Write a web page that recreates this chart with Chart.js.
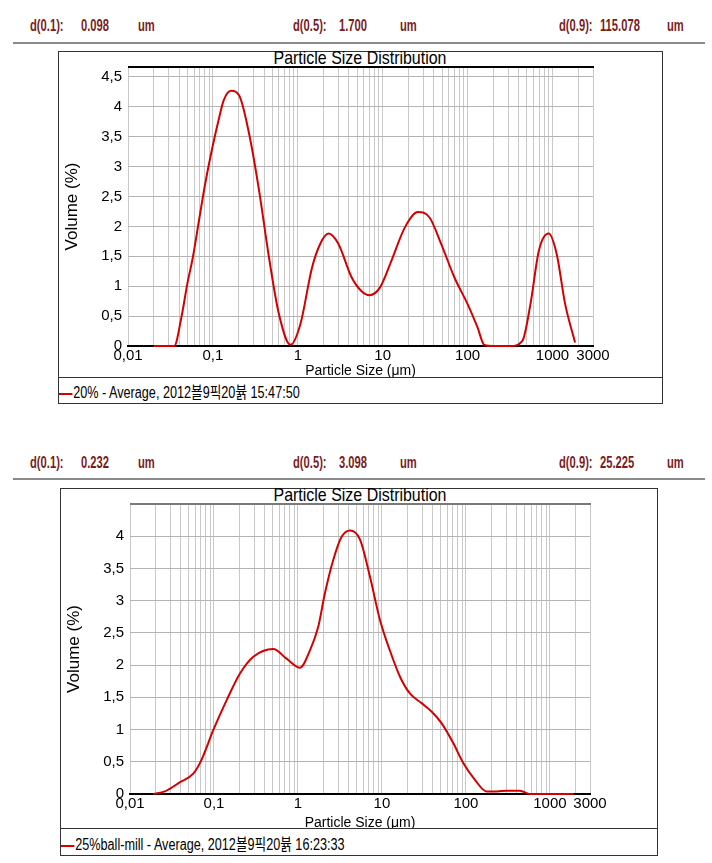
<!DOCTYPE html>
<html>
<head>
<meta charset="utf-8">
<script src="https://cdn.jsdelivr.net/npm/chart.js@4.4.1/dist/chart.umd.min.js"></script>
<style>
  html, body { margin: 0; padding: 0; background: #fff; }
  body { width: 712px; height: 863px; position: relative; overflow: hidden;
         font-family: "Liberation Sans", Arial, "Noto Sans CJK KR", sans-serif; }
  .hd { position: absolute; font-size: 16px; font-weight: bold; color: #7a1c1c; line-height: 16px;
        white-space: nowrap; transform: scaleX(0.7); transform-origin: 0 50%; }
  .rule { position: absolute; height: 0; border-top: 2px solid #8a8a8a; }
  .box { position: absolute; border: 1px solid #333; box-sizing: border-box; }
  .sep { position: absolute; left: 0; right: 0; border-top: 1px solid #333; }
  .ttl { position: absolute; font-size: 19px; line-height: 18px; color: #000; white-space: nowrap;
         transform: translateX(-50%) scaleX(0.84); }
  .leg { position: absolute; font-size: 16px; line-height: 16px; color: #000; white-space: nowrap;
         transform: scaleX(0.79); transform-origin: 0 50%; }
  .leg i { display: inline-block; width: 17px; border-top: 2px solid #d40000; vertical-align: middle; margin-right: 1px; }
  canvas { position: absolute; }
</style>
</head>
<body>
<div id="page"></div>
<canvas id="c1" width="604" height="326" style="left:58px;top:51px"></canvas>
<canvas id="c2" width="597" height="340" style="left:60px;top:488px"></canvas>
<script>
// header values
const dLabels = ["d(0.1):", "d(0.5):", "d(0.9):"];
const dValues1 = ["0.098", "1.700", "115.078"];
const dValues2 = ["0.232", "3.098", "25.225"];
const unit = "um";

// x axis (particle size, log)
const xTickValues = [0.01, 0.1, 1, 10, 100, 1000, 3000];
const xTickLabels = ["0,01", "0,1", "1", "10", "100", "1000", "3000"];

// y axis
const yTicks1 = [0, 0.5, 1, 1.5, 2, 2.5, 3, 3.5, 4, 4.5];
const yTicks2 = [0, 0.5, 1, 1.5, 2, 2.5, 3, 3.5, 4];

// sample 1: 20%
const legend1 = "20% - Average, 2012뵬9픽20뷹 15:47:50";
const sizes1 = [0.02, 0.035, 0.0425, 0.0499, 0.058, 0.0695, 0.081, 0.0969, 0.119, 0.134, 0.163, 0.204, 0.267, 0.35, 0.458, 0.6, 0.82,
  1.07, 1.47, 1.84, 2.3, 3.0, 4.3, 5.6, 7.0, 9.3, 12.7, 18.2, 26, 35.6, 48.8, 69.8, 100, 131, 157,
  200, 320, 440, 550, 690, 900, 1120, 1410, 1845];
const volume1 = [0, 0, 0.475, 1.035, 1.48, 2.15, 2.71, 3.27, 3.83, 4.11, 4.27, 4.19, 3.55, 2.6, 1.48, 0.53, 0.02,
  0.36, 1.31, 1.71, 1.88, 1.71, 1.15, 0.92, 0.85, 0.98, 1.43, 1.98, 2.24, 2.15, 1.71, 1.15, 0.7, 0.31, 0.02,
  0, 0, 0.08, 0.7, 1.59, 1.88, 1.54, 0.7, 0.06];

// sample 2: 25% ball-mill
const legend2 = "25%ball-mill - Average, 2012뵬9픽20뷹 16:23:33";
const sizes2 = [0.019, 0.026, 0.039, 0.057, 0.071, 0.098, 0.142, 0.204, 0.294, 0.508, 0.73, 1.06,
  1.39, 1.74, 2.09, 2.63, 3.31, 4.16, 5.47, 7.2, 9.47, 12.4, 16.4, 21.5, 29.6, 38.9, 51.2, 70.6, 92.9,
  128, 176, 232, 305, 440, 578, 1893];
const volume2 = [0, 0.04, 0.18, 0.32, 0.53, 0.99, 1.46, 1.87, 2.13, 2.25, 2.1, 1.96,
  2.23, 2.59, 3.11, 3.63, 3.99, 4.09, 3.95, 3.37, 2.7, 2.23, 1.82, 1.56, 1.41, 1.28, 1.1, 0.79, 0.48,
  0.22, 0.04, 0.04, 0.05, 0.05, 0, 0];

const FONT = '"Liberation Sans", Arial, sans-serif';
Chart.defaults.font.family = FONT;
Chart.defaults.color = "#000";

// grid lines at 1..9 x each decade, up to the 3000 edge
const xGrid = [];
for (let e = -2; e <= 3; e++) {
  for (let k = 1; k <= 9; k++) {
    const v = Number((k * Math.pow(10, e)).toPrecision(6));
    if (v < 3000) xGrid.push(v);
  }
}
xGrid.push(3000);

const page = document.getElementById("page");

function addEl(cls, css, html) {
  const d = document.createElement("div");
  d.className = cls;
  d.style.cssText = css;
  if (html !== undefined) d.innerHTML = html;
  page.appendChild(d);
  return d;
}

function buildPanel(p) {
  const labelX = [30, 293, 559];
  const valueX = [81, 339, 600];
  const unitX = [138, 400, 667];
  dLabels.forEach((lab, i) => {
    addEl("hd", `left:${labelX[i]}px;top:${p.headY - 8}px`, lab);
    addEl("hd", `left:${valueX[i]}px;top:${p.headY - 8}px`, p.values[i]);
    addEl("hd", `left:${unitX[i]}px;top:${p.headY - 8}px`, unit);
  });
  addEl("rule", `left:13px;width:692px;top:${p.ruleY}px`);
  const box = addEl("box", `left:${p.box[0]}px;top:${p.box[1]}px;width:${p.box[2]}px;height:${p.box[3]}px`);
  const sep = document.createElement("div");
  sep.className = "sep";
  sep.style.top = (p.sepY - p.box[1] - 1) + "px";
  box.appendChild(sep);
  addEl("ttl", `left:${p.titleX}px;top:${p.titleY - 9}px`, "Particle Size Distribution");
  addEl("leg", `left:${p.box[0] + 1}px;top:${p.legY - 8}px`, "<i></i>" + p.legend);
}

const topBorder = {
  id: "topBorder",
  afterDraw(chart, args, opts) {
    const { ctx, chartArea: a } = chart;
    ctx.save();
    ctx.strokeStyle = opts.color;
    ctx.lineWidth = 2;
    ctx.beginPath();
    ctx.moveTo(a.left, a.top);
    ctx.lineTo(a.right + 1, a.top);
    ctx.stroke();
    ctx.restore();
  },
};

function xLabel(v) {
  for (let i = 0; i < xTickValues.length; i++) {
    if (Math.abs(Math.log10(v) - Math.log10(xTickValues[i])) < 1e-6) return xTickLabels[i];
  }
  return "";
}

function makeChart(id, sizes, volume, yMax, yTicks, cfg) {
  const tickFont = { family: FONT, size: 15 };
  return new Chart(document.getElementById(id), {
    type: "line",
    data: {
      datasets: [{
        data: sizes.map((s, i) => ({ x: s, y: volume[i] })),
        borderColor: "#d40000",
        borderWidth: 2,
        pointRadius: 0,
        fill: false,
        cubicInterpolationMode: "monotone",
        clip: false,
      }],
    },
    options: {
      responsive: false,
      animation: false,
      layout: { padding: { top: cfg.padTop, right: cfg.padRight, left: 0, bottom: 0 } },
      scales: {
        x: {
          type: "logarithmic",
          min: 0.01,
          max: 3000,
          afterBuildTicks: (s) => { s.ticks = xGrid.map((v) => ({ value: v })); },
          afterFit: (s) => { s.height = cfg.xAxisH; },
          ticks: { autoSkip: false, maxRotation: 0, minRotation: 0, padding: 1, font: tickFont, color: "#000",
            callback: (v) => xLabel(v) },
          grid: { color: "#c8c8c8", lineWidth: 1, drawTicks: false },
          border: { color: "#000", width: 2 },
          title: { display: true, text: "Particle Size (μm)", font: { family: FONT, size: 14 }, color: "#000",
            padding: { top: 0, bottom: cfg.xTitlePad } },
        },
        y: {
          min: 0,
          max: yMax,
          afterBuildTicks: (s) => { s.ticks = yTicks.map((v) => ({ value: v })); },
          afterFit: (s) => { s.width = 70; },
          ticks: { padding: 6, font: tickFont, color: "#000",
            callback: (v) => String(v).replace(".", ",") },
          grid: { color: "#b4b4b4", lineWidth: 1, drawTicks: false },
          border: { display: false },
          title: { display: true, text: "Volume (%)", font: { family: FONT, size: 17 }, color: "#000", padding: { top: 4, bottom: 0 } },
        },
      },
      plugins: {
        legend: { display: false },
        tooltip: { enabled: false },
        topBorder: { color: cfg.topColor },
      },
    },
    plugins: [topBorder],
  });
}

buildPanel({ headY: 26, values: dValues1, ruleY: 42, box: [58, 51, 605, 353], sepY: 377,
  titleX: 360, titleY: 58, legY: 393, legend: legend1 });
buildPanel({ headY: 463, values: dValues2, ruleY: 478, box: [60, 488, 598, 368], sepY: 828,
  titleX: 360, titleY: 495, legY: 845, legend: legend2 });

makeChart("c1", sizes1, volume1, 4.667, yTicks1, { padTop: 16, padRight: 69, xAxisH: 31, xTitlePad: -3, topColor: "#000" });
makeChart("c2", sizes2, volume2, 4.5, yTicks2, { padTop: 16, padRight: 67, xAxisH: 34, xTitlePad: -4, topColor: "#7a7a7a" });
</script>
</body>
</html>
